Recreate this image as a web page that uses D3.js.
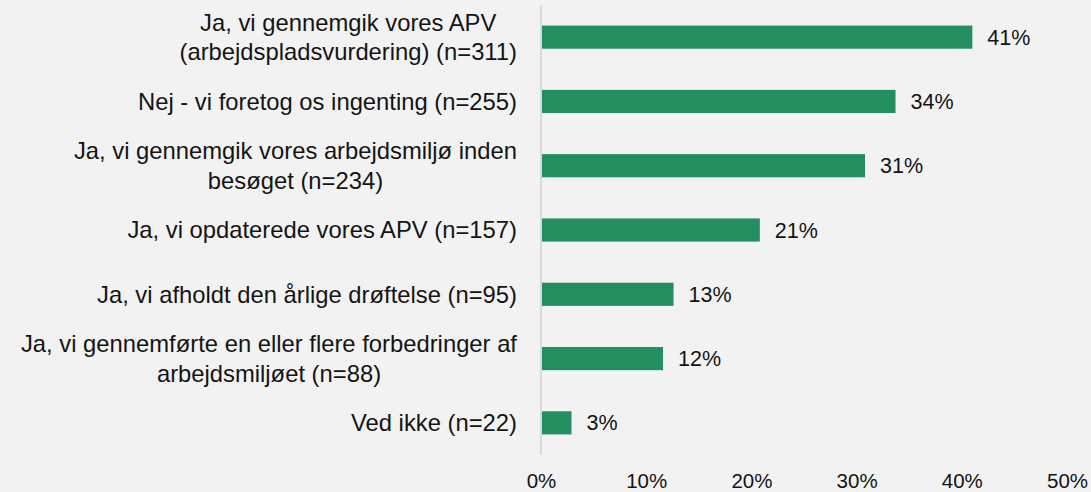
<!DOCTYPE html>
<html>
<head>
<meta charset="utf-8">
<script src="https://cdn.jsdelivr.net/npm/d3@7"></script>
<style>
  html, body { margin: 0; padding: 0; background: #f2f2f2; }
  svg { display: block; font-family: Arial, "Liberation Sans", sans-serif; }
</style>
</head>
<body>
<svg id="canvas" width="1091" height="492"></svg>
<script>
// answers (each line of the label is its own string)
let categories = [
    ['Ja, vi gennemgik vores APV', '(arbejdspladsvurdering) (n=311)'],
    ['Nej - vi foretog os ingenting (n=255)'],
    ['Ja, vi gennemgik vores arbejdsmiljø inden', 'besøget (n=234)'],
    ['Ja, vi opdaterede vores APV (n=157)'],
    ['Ja, vi afholdt den årlige drøftelse (n=95)'],
    ['Ja, vi gennemførte en eller flere forbedringer af', 'arbejdsmiljøet (n=88)'],
    ['Ved ikke (n=22)']
]
let shares = [0.41, 0.337, 0.308, 0.208, 0.126, 0.116, 0.029]
let tickValues = [0, 0.1, 0.2, 0.3, 0.4, 0.5]

let canvas = d3.select('#canvas')

let x = d3.scaleLinear()
    .domain([0, 0.5])
    .range([541, 1067])

let y = d3.scaleBand()
    .domain(d3.range(categories.length))
    .range([5, 455])
    .paddingInner(0.64)
    .paddingOuter(0.32)

let rows = categories.map((lines, i) => ({lines: lines, value: shares[i], i: i}))

// bars
canvas.selectAll('rect.bar')
    .data(rows)
    .enter()
    .append('rect')
    .attr('class', 'bar')
    .attr('x', x(0))
    .attr('y', (d) => y(d.i))
    .attr('width', (d) => x(d.value) - x(0))
    .attr('height', y.bandwidth())
    .attr('fill', '#238e5f')

// vertical axis line
canvas.append('line')
    .attr('x1', x(0)).attr('x2', x(0))
    .attr('y1', y.range()[0]).attr('y2', y.range()[1])
    .attr('stroke', '#d9d9d9')
    .attr('stroke-width', 2)

// category labels
let lineH = 29.5
let labels = canvas.selectAll('text.cat')
    .data(rows)
    .enter()
    .append('text')
    .attr('class', 'cat')
    .attr('text-anchor', 'middle')
    .attr('font-size', 23.8)
    .attr('fill', '#141414')

labels.each(function (d) {
    let t = d3.select(this)
    let cy = y(d.i) + y.bandwidth() / 2
    let n = d.lines.length
    // right-aligned block, lines centred inside it
    d.lines.forEach((line, k) => {
        t.append('tspan')
            .attr('y', cy + (k - (n - 1) / 2) * lineH)
            .attr('dy', '0.35em')
            .text(line)
    })
})
labels.each(function () {
    let t = d3.select(this)
    let w = d3.max(t.selectAll('tspan').nodes(), (n) => n.getComputedTextLength())
    t.selectAll('tspan').attr('x', 517 - w / 2)
})

// value labels
canvas.selectAll('text.val')
    .data(rows)
    .enter()
    .append('text')
    .attr('class', 'val')
    .attr('x', (d) => x(d.value) + 15)
    .attr('y', (d) => y(d.i) + y.bandwidth() / 2)
    .attr('dy', '0.35em')
    .attr('font-size', 21.5)
    .attr('fill', '#141414')
    .text((d) => Math.round(d.value * 100) + '%')

// x axis, labels only
let xAxis = d3.axisBottom(x)
    .tickValues(tickValues)
    .tickFormat(d3.format('.0%'))
    .tickSize(0)
    .tickPadding(0)

let gx = canvas.append('g')
    .attr('transform', 'translate(0, 473)')
    .call(xAxis)
gx.select('.domain').remove()
gx.selectAll('text')
    .attr('font-size', 20.5)
    .attr('font-family', 'Arial, "Liberation Sans", sans-serif')
    .attr('fill', '#141414')
    .attr('dy', '0.71em')
</script>
</body>
</html>
